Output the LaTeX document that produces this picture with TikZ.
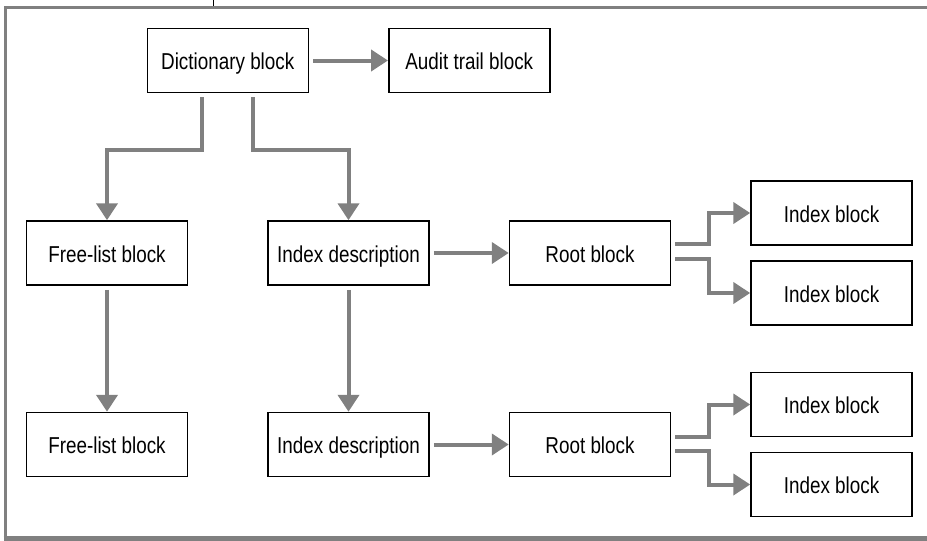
\documentclass[tikz,border=0pt]{standalone}
\usepackage{fontspec}
\setmainfont{Liberation Sans}[FakeStretch=0.82]
\usetikzlibrary{positioning,calc,arrows.meta}
\definecolor{flowgray}{RGB}{128,128,128}
\tikzset{
  block/.style={
    draw=black,
    fill=white,
    line width=1.5pt,
    minimum width={161pt},
    minimum height={64pt},
    inner sep=0pt,
    text height=22pt,
    text depth=4pt,
    font=\fontsize{23}{27}\selectfont,
  },
  flow/.style={
    draw=flowgray,
    line width=4pt,
    -{Triangle[length=17pt,width=21pt]},
    shorten <=4pt,
  },
  frame line/.style={
    draw=flowgray,
    line width=#1,
  }
}

\begin{document}
\begin{tikzpicture}[node distance=126pt and 79pt]
        \useasboundingbox (0,0) rectangle (927pt,-541pt);

        \draw [frame line=3pt] (5pt,-541pt) -- (5pt,-7.5pt) -- (927pt,-7.5pt);
        \draw [frame line=5pt] (3.5pt,-538pt) -- (927pt,-538pt);
        \draw [line width=1pt] (213pt,0pt) -- (213pt,-6pt);

        \node [block] (free1) at (107pt,-253pt) {Free-list block};
        \node [block, right=of free1] (desc1) {Index description};
        \node [block, right=of desc1] (root1) {Root block};
        \node [block, right=of root1, yshift=40pt] (leaf1) {Index block};
        \node [block, right=of root1, yshift=-40pt] (leaf2) {Index block};

        \node [block, below=of free1] (free2) {Free-list block};
        \node [block, below=of desc1] (desc2) {Index description};
        \node [block, right=of desc2] (root2) {Root block};
        \node [block, right=of root2, yshift=40pt] (leaf3) {Index block};
        \node [block, right=of root2, yshift=-40pt] (leaf4) {Index block};

        \coordinate (mid) at ($(free1.north)!0.5!(desc1.north)$);
        \node [block, above=127pt of mid] (dict) {Dictionary block};
        \node [block, right=of dict] (audit) {Audit trail block};

        \draw [flow] (dict) -- (audit);
        \draw [flow] ([xshift=-26pt]dict.south) -- ++(0,-57pt) -| (free1.north);
        \draw [flow] ([xshift=25pt]dict.south) -- ++(0,-57pt) -| (desc1.north);
        \draw [flow] (free1) -- (free2);
        \draw [flow] (desc1) -- (desc2);
        \draw [flow] (desc1) -- (root1);
        \draw [flow] (desc2) -- (root2);
        \draw [flow] ([yshift=9pt]root1.east) -- ++(38pt,0) |- (leaf1.west);
        \draw [flow] ([yshift=-6pt]root1.east) -- ++(38pt,0) |- (leaf2.west);
        \draw [flow] ([yshift=8pt]root2.east) -- ++(38pt,0) |- (leaf3.west);
        \draw [flow] ([yshift=-6pt]root2.east) -- ++(38pt,0) |- (leaf4.west);
      \end{tikzpicture}
\end{document}
